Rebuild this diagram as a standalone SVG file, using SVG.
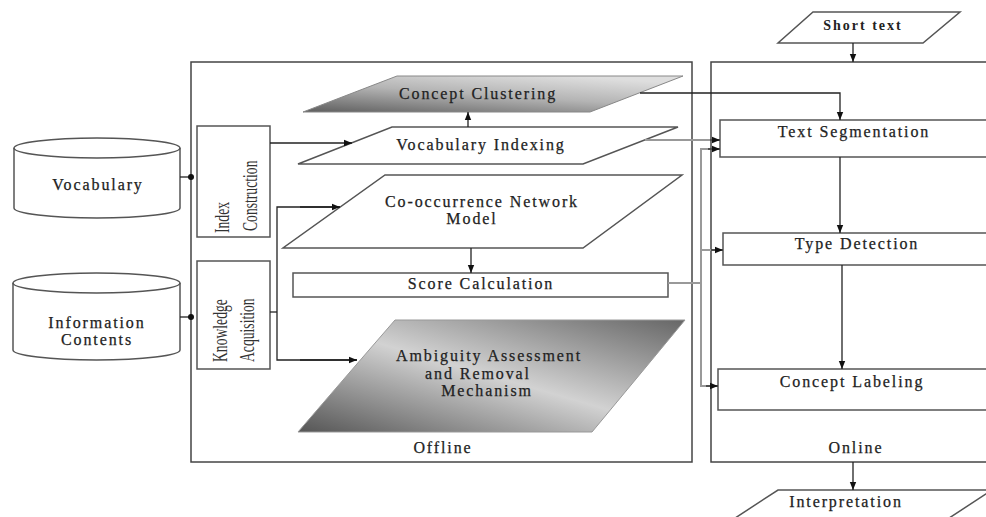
<svg xmlns="http://www.w3.org/2000/svg" width="986" height="517" viewBox="0 0 986 517">
<defs>
  <marker id="ah" viewBox="0 0 10 10" refX="10" refY="5" markerWidth="8" markerHeight="8" orient="auto" markerUnits="userSpaceOnUse">
    <path d="M0,1 L10,5 L0,9 z" fill="#111"/>
  </marker>
  <marker id="dot" viewBox="0 0 10 10" refX="5" refY="5" markerWidth="6" markerHeight="6" markerUnits="userSpaceOnUse">
    <circle cx="5" cy="5" r="5" fill="#111"/>
  </marker>
  <linearGradient id="gClu" x1="0" y1="1" x2="0.7" y2="0">
    <stop offset="0" stop-color="#5e5e5e"/>
    <stop offset="0.55" stop-color="#b4b4b4"/>
    <stop offset="1" stop-color="#dedede"/>
  </linearGradient>
  <linearGradient id="gAmb" x1="0" y1="1" x2="1" y2="0">
    <stop offset="0" stop-color="#555"/>
    <stop offset="0.5" stop-color="#d2d2d2"/>
    <stop offset="1" stop-color="#666"/>
  </linearGradient>
</defs>
<style>
  .t{font-family:"Liberation Serif","Times New Roman",serif;font-size:16px;fill:#222;stroke:#222;stroke-width:0.25;letter-spacing:1.9px;text-anchor:middle}
  .b{font-weight:bold;font-size:14px;letter-spacing:2px;stroke-width:0}
  .v{font-family:"Liberation Serif","Times New Roman",serif;font-size:22px;fill:#333;text-anchor:start}
  .box{fill:#fff;stroke:#555;stroke-width:1.5}
  .frame{fill:none;stroke:#444;stroke-width:1.5}
  .ln{fill:none;stroke:#222;stroke-width:1.3}
  .gl{fill:none;stroke:#999;stroke-width:2}
</style>
<rect width="986" height="517" fill="#fff"/>

<g id="offline">
  <rect class="frame" x="191" y="62" width="501" height="400"/>
  <text class="t" x="443" y="453">Offline</text>
</g>
<g id="online">
  <rect class="frame" x="711" y="62" width="290" height="400"/>
  <text class="t" x="856" y="453">Online</text>
</g>

<g id="short-text">
  <polygon class="box" points="813,12 960,12 923,43 778,43"/>
  <text class="t b" x="863" y="30">Short text</text>
</g>

<g id="vocabulary">
  <path class="box" d="M14,148 A83,10 0 0 1 180,148 L180,208 A83,10 0 0 1 14,208 Z"/>
  <path d="M14,148 A83,10 0 0 0 180,148" fill="none" stroke="#555" stroke-width="1.5"/>
  <text class="t" x="98" y="190">Vocabulary</text>
</g>
<g id="information-contents">
  <path class="box" d="M13,283 A83.5,10 0 0 1 180,283 L180,350 A83.5,10 0 0 1 13,350 Z"/>
  <path d="M13,283 A83.5,10 0 0 0 180,283" fill="none" stroke="#555" stroke-width="1.5"/>
  <text class="t" x="97" y="328">Information</text>
  <text class="t" x="97" y="345">Contents</text>
</g>

<g id="index-construction">
  <rect class="box" x="197" y="126" width="73" height="111"/>
  <text class="v" transform="translate(229,233) rotate(-90) scale(0.62,1)">Index</text>
  <text class="v" transform="translate(257,231) rotate(-90) scale(0.62,1)">Construction</text>
</g>
<g id="knowledge-acquisition">
  <rect class="box" x="197" y="261" width="73" height="108"/>
  <text class="v" transform="translate(227,362) rotate(-90) scale(0.62,1)">Knowledge</text>
  <text class="v" transform="translate(254,362) rotate(-90) scale(0.62,1)">Acquisition</text>
</g>

<g id="concept-clustering">
  <polygon points="397,76 683,76 590,112 303,112" fill="url(#gClu)" stroke="#888" stroke-width="1"/>
  <text class="t" x="478" y="99">Concept Clustering</text>
</g>
<g id="vocabulary-indexing">
  <polygon class="box" points="392,127 678,127 583,164 298,164"/>
  <text class="t" x="481" y="150">Vocabulary Indexing</text>
</g>
<g id="co-occurrence">
  <polygon class="box" points="385,175 682,175 583,248 283,248"/>
  <text class="t" x="482" y="207">Co-occurrence Network</text>
  <text class="t" x="472" y="224">Model</text>
</g>
<g id="score-calculation">
  <rect class="box" x="293" y="273" width="375" height="24"/>
  <text class="t" x="481" y="289">Score Calculation</text>
</g>
<g id="ambiguity">
  <polygon points="395,320 685,320 592,432 298,432" fill="url(#gAmb)" stroke="#999" stroke-width="1"/>
  <text class="t" x="489" y="361">Ambiguity Assessment</text>
  <text class="t" x="478" y="379">and Removal</text>
  <text class="t" x="487" y="396">Mechanism</text>
</g>

<g id="text-segmentation">
  <rect class="box" x="720" y="120" width="280" height="37"/>
  <text class="t" x="854" y="137">Text Segmentation</text>
</g>
<g id="type-detection">
  <rect class="box" x="723" y="233" width="280" height="32"/>
  <text class="t" x="857" y="249">Type Detection</text>
</g>
<g id="concept-labeling">
  <rect class="box" x="718" y="369" width="280" height="41"/>
  <text class="t" x="852" y="387">Concept Labeling</text>
</g>
<g id="interpretation">
  <polygon class="box" points="778,490 992,490 940,524 726,524"/>
  <text class="t" x="846" y="507">Interpretation</text>
</g>

<g id="connectors">
  <path class="ln" d="M853,43 L853,62" marker-end="url(#ah)"/>
  <path class="ln" d="M180,177 L191,177" marker-end="url(#dot)"/>
  <path class="ln" d="M180,317 L191,317" marker-end="url(#dot)"/>
  <path class="ln" d="M270,143 L352,143" marker-end="url(#ah)"/>
  <path class="ln" d="M270,312 L277,312"/>
  <path class="ln" d="M340,207 L277,207 L277,360 L357,360"/>
  <path class="ln" d="M300,207 L340,207" marker-end="url(#ah)"/>
  <path class="ln" d="M300,360 L357,360" marker-end="url(#ah)"/>
  <path class="ln" d="M468,127 L468,112" marker-end="url(#ah)"/>
  <path class="ln" d="M471,248 L471,273" marker-end="url(#ah)"/>
  <path class="ln" d="M640,93 L840,93 L840,120" marker-end="url(#ah)"/>
  <path class="gl" d="M645,140 L720,140"/>
  <path class="ln" d="M710,140 L720,140" marker-end="url(#ah)"/>
  <path class="gl" d="M668,283 L701,283"/>
  <path class="gl" d="M720,149 L701,149 L701,386 L718,386"/>
  <path class="ln" d="M708,149 L720,149" marker-end="url(#ah)"/>
  <path class="gl" d="M701,250 L723,250"/>
  <path class="ln" d="M711,250 L723,250" marker-end="url(#ah)"/>
  <path class="ln" d="M706,386 L718,386" marker-end="url(#ah)"/>
  <path class="ln" d="M840,157 L840,233" marker-end="url(#ah)"/>
  <path class="ln" d="M842,265 L842,369" marker-end="url(#ah)"/>
  <path class="ln" d="M853,462 L853,490" marker-end="url(#ah)"/>
</g>
</svg>
